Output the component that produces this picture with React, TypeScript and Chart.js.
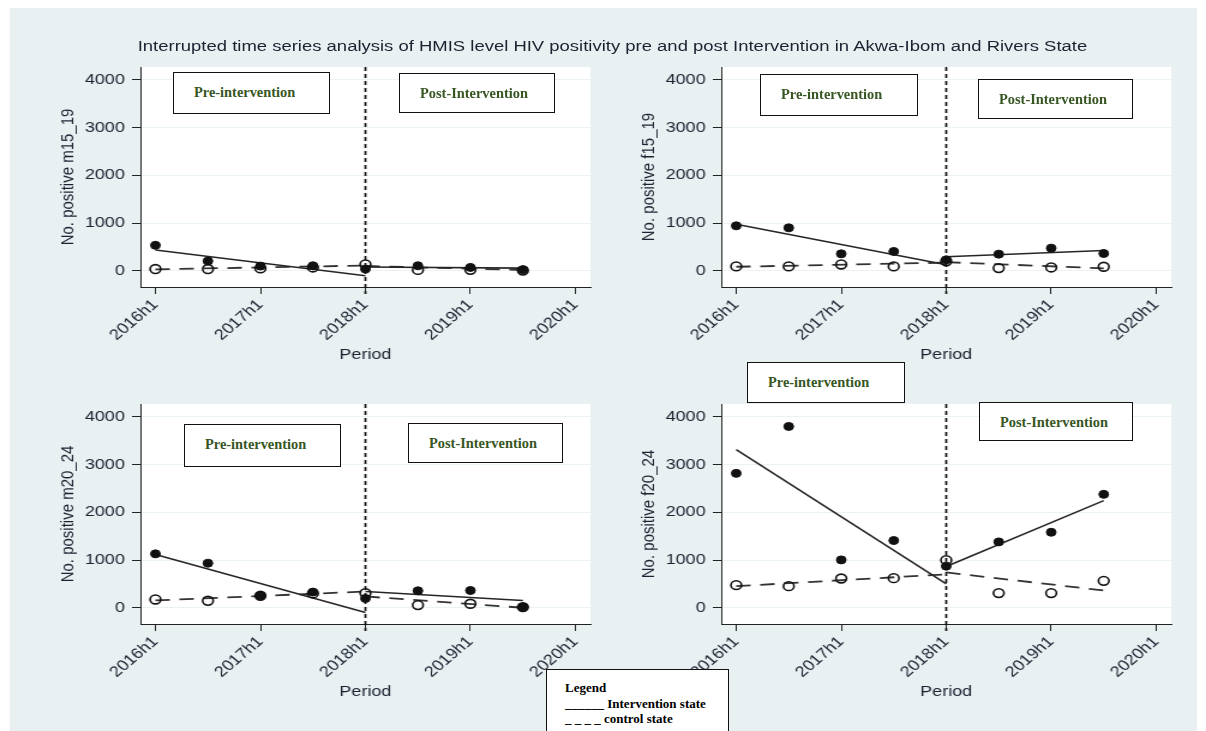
import { useEffect, useRef } from 'react';
import { Chart, registerables } from 'chart.js';

Chart.register(...registerables);

// ---- data -------------------------------------------------------------
const PERIODS = ['2016h1', '2016h2', '2017h1', '2017h2', '2018h1', '2018h2', '2019h1', '2019h2'];
const X_TICK_INDEX = [0, 2, 4, 6, 8];
const X_TICK_LABELS = ['2016h1', '2017h1', '2018h1', '2019h1', '2020h1'];
const Y_TICKS = [0, 1000, 2000, 3000, 4000];
const INTERVENTION_PERIOD = '2018h1';

// fitted segments: pre runs 2016h1 -> 2018h1, post runs 2018h1 -> 2019h2
const FIT_PRE_PERIODS = ['2016h1', '2018h1'];
const FIT_POST_PERIODS = ['2018h1', '2019h2'];

// males 15-19
const m15_19Intervention = [533, 203, 98, 105, 36, 105, 70, 20];
const m15_19Control = [36, 36, 50, 70, 134, 18, 20, 5];
const m15_19FitInterventionPre = [434, -105];
const m15_19FitInterventionPost = [80, 55];
const m15_19FitControlPre = [30, 110];
const m15_19FitControlPost = [100, 15];

// females 15-19
const f15_19Intervention = [941, 899, 355, 404, 230, 348, 474, 362];
const f15_19Control = [91, 91, 132, 91, 200, 56, 70, 84];
const f15_19FitInterventionPre = [976, 125];
const f15_19FitInterventionPost = [293, 425];
const f15_19FitControlPre = [84, 170];
const f15_19FitControlPost = [180, 50];

// males 20-24
const m20_24Intervention = [1129, 934, 251, 328, 195, 355, 362, 14];
const m20_24Control = [174, 146, 251, 300, 307, 56, 84, 14];
const m20_24FitInterventionPre = [1115, -98];
const m20_24FitInterventionPost = [341, 153];
const m20_24FitControlPre = [153, 340];
const m20_24FitControlPost = [237, 0];

// females 20-24
const f20_24Intervention = [2815, 3798, 1003, 1408, 871, 1380, 1582, 2376];
const f20_24Control = [474, 453, 613, 620, 997, 307, 307, 564];
const f20_24FitInterventionPre = [3310, 502];
const f20_24FitInterventionPost = [864, 2244];
const f20_24FitControlPre = [453, 700];
const f20_24FitControlPost = [740, 362];

const TITLE =
  'Interrupted time series analysis of HMIS level HIV positivity pre and post Intervention in Akwa-Ibom and Rivers State';

// ---- styling / layout ---------------------------------------------------
const STRETCH = 1.2; // graph is widened horizontally
const BG = 'rgb(232,240,242)';
const GRID = 'rgb(234,242,243)';
const INK = '#1b2230';
const FONT = '"Liberation Sans", Arial, sans-serif';
const Y_MIN = -340;
const Y_MAX = 4268;
const X_MIN = -0.286;
const X_MAX = 8.286;
const Y_AXIS_W = 100;
const X_AXIS_H = 80;
const CANVAS_W = 485;
const CANVAS_H = 320;

const idx = (p: string) => PERIODS.indexOf(p);

type PanelSpec = {
  left: number;
  top: number;
  yTitle: string;
  intervention: number[];
  control: number[];
  fitIntPre: number[];
  fitIntPost: number[];
  fitCtlPre: number[];
  fitCtlPost: number[];
};

const PANELS: PanelSpec[] = [
  {
    left: 140 / STRETCH - Y_AXIS_W, top: 47, yTitle: 'No. positive m15_19',
    intervention: m15_19Intervention, control: m15_19Control,
    fitIntPre: m15_19FitInterventionPre, fitIntPost: m15_19FitInterventionPost,
    fitCtlPre: m15_19FitControlPre, fitCtlPost: m15_19FitControlPost,
  },
  {
    left: 721 / STRETCH - Y_AXIS_W, top: 47, yTitle: 'No. positive f15_19',
    intervention: f15_19Intervention, control: f15_19Control,
    fitIntPre: f15_19FitInterventionPre, fitIntPost: f15_19FitInterventionPost,
    fitCtlPre: f15_19FitControlPre, fitCtlPost: f15_19FitControlPost,
  },
  {
    left: 140 / STRETCH - Y_AXIS_W, top: 383.5, yTitle: 'No. positive m20_24',
    intervention: m20_24Intervention, control: m20_24Control,
    fitIntPre: m20_24FitInterventionPre, fitIntPost: m20_24FitInterventionPost,
    fitCtlPre: m20_24FitControlPre, fitCtlPost: m20_24FitControlPost,
  },
  {
    left: 721 / STRETCH - Y_AXIS_W, top: 383.5, yTitle: 'No. positive f20_24',
    intervention: f20_24Intervention, control: f20_24Control,
    fitIntPre: f20_24FitInterventionPre, fitIntPost: f20_24FitInterventionPost,
    fitCtlPre: f20_24FitControlPre, fitCtlPost: f20_24FitControlPost,
  },
];

// text boxes placed over the graph
const NOTE_BOXES = [
  { text: 'Pre-intervention', left: 173, top: 72, width: 157, height: 42 },
  { text: 'Post-Intervention', left: 399, top: 73, width: 156, height: 40 },
  { text: 'Pre-intervention', left: 760, top: 74, width: 158, height: 42 },
  { text: 'Post-Intervention', left: 978, top: 79, width: 155, height: 40 },
  { text: 'Pre-intervention', left: 184, top: 424, width: 157, height: 43 },
  { text: 'Post-Intervention', left: 408, top: 423, width: 155, height: 40 },
  { text: 'Pre-intervention', left: 747, top: 362, width: 158, height: 41 },
  { text: 'Post-Intervention', left: 979, top: 402, width: 154, height: 39 },
];

const LEGEND_LINES = ['Legend', '______ Intervention state', '_ _ _ _ control state'];

// ---- chart ---------------------------------------------------------------
const interventionLine = {
  id: 'interventionLine',
  beforeDatasetsDraw(chart: any) {
    const { ctx, chartArea, scales } = chart;
    const px = scales.x.getPixelForValue(idx(INTERVENTION_PERIOD));
    ctx.save();
    ctx.strokeStyle = '#111';
    ctx.lineWidth = 1.7;
    ctx.setLineDash([4, 3]);
    ctx.beginPath();
    ctx.moveTo(px, chartArea.top);
    ctx.lineTo(px, chartArea.bottom + 7);
    ctx.stroke();
    ctx.restore();
  },
};

const plotBackground = {
  id: 'plotBackground',
  beforeDraw(chart: any) {
    const { ctx, chartArea } = chart;
    ctx.save();
    ctx.fillStyle = '#ffffff';
    ctx.fillRect(chartArea.left, chartArea.top, chartArea.right - chartArea.left, chartArea.bottom - chartArea.top);
    ctx.restore();
  },
};

function segment(periods: string[], values: number[]) {
  return values.map((v, i) => ({ x: idx(periods[i]), y: v }));
}

function Panel({ spec }: { spec: PanelSpec }) {
  const ref = useRef<HTMLCanvasElement>(null);

  useEffect(() => {
    if (!ref.current) return;
    const tickFont = { family: FONT, size: 15 };
    const fitLine = { pointRadius: 0, showLine: true, fill: false, borderColor: '#262626', borderWidth: 1.6 };
    const dashLine = { ...fitLine, borderColor: '#333', borderWidth: 1.8, borderDash: [12, 8] };
    const chart = new Chart(ref.current, {
      type: 'line',
      data: {
        datasets: [
          {
            label: 'Intervention state',
            data: spec.intervention.map((y, i) => ({ x: i, y })),
            showLine: false,
            pointRadius: 4,
            pointBackgroundColor: '#111',
            pointBorderColor: '#111',
            pointBorderWidth: 1,
          },
          {
            label: 'Control state',
            data: spec.control.map((y, i) => ({ x: i, y })),
            showLine: false,
            pointRadius: 4.4,
            pointBackgroundColor: 'rgba(0,0,0,0)',
            pointBorderColor: '#111',
            pointBorderWidth: 1.6,
          },
          { label: 'Intervention fit (pre)', data: segment(FIT_PRE_PERIODS, spec.fitIntPre), ...fitLine },
          { label: 'Intervention fit (post)', data: segment(FIT_POST_PERIODS, spec.fitIntPost), ...fitLine },
          { label: 'Control fit (pre)', data: segment(FIT_PRE_PERIODS, spec.fitCtlPre), ...dashLine },
          { label: 'Control fit (post)', data: segment(FIT_POST_PERIODS, spec.fitCtlPost), ...dashLine },
        ],
      },
      options: {
        responsive: false,
        animation: false,
        events: [],
        layout: { padding: { top: 20, right: 10, bottom: 0, left: 0 } },
        plugins: { legend: { display: false }, tooltip: { enabled: false }, title: { display: false } },
        scales: {
          x: {
            type: 'linear',
            min: X_MIN,
            max: X_MAX,
            afterBuildTicks: (s: any) => {
              s.ticks = X_TICK_INDEX.map((v) => ({ value: v }));
            },
            afterFit: (s: any) => {
              s.height = X_AXIS_H;
            },
            ticks: {
              autoSkip: false,
              minRotation: 45,
              maxRotation: 45,
              padding: 2,
              color: INK,
              font: tickFont,
              callback: (_v: any, i: number) => X_TICK_LABELS[i],
            },
            grid: { drawOnChartArea: false, drawTicks: true, tickLength: 7, tickColor: '#222', tickWidth: 1 },
            border: { display: true, color: '#222', width: 1 },
            title: { display: true, text: 'Period', color: INK, font: { family: FONT, size: 15 }, padding: { top: 0, bottom: 3 } },
          },
          y: {
            type: 'linear',
            min: Y_MIN,
            max: Y_MAX,
            afterBuildTicks: (s: any) => {
              s.ticks = Y_TICKS.map((v) => ({ value: v }));
            },
            afterFit: (s: any) => {
              s.width = Y_AXIS_W;
            },
            ticks: { padding: 6, color: INK, font: tickFont, callback: (v: any) => String(v) },
            grid: { color: GRID, lineWidth: 1, tickColor: '#222', tickLength: 7, tickWidth: 1 },
            border: { display: true, color: '#222', width: 1 },
            title: { display: true, text: spec.yTitle, color: INK, font: { family: FONT, size: 15 }, padding: { top: 31, bottom: 0 } },
          },
        },
      },
      plugins: [interventionLine, plotBackground],
    } as any);
    return () => chart.destroy();
  }, [spec]);

  return (
    <canvas
      ref={ref}
      width={CANVAS_W}
      height={CANVAS_H}
      style={{ position: 'absolute', left: spec.left, top: spec.top, display: 'block' }}
    />
  );
}

export default function App() {
  return (
    <div style={{ position: 'absolute', left: 0, top: 0, width: 1206, height: 731, overflow: 'hidden', background: '#fff' }}>
      <div style={{ position: 'absolute', left: 10, top: 8, width: 1187, height: 723, background: BG }} />
      <div
        style={{
          position: 'absolute', left: 0, top: 0, width: 1206 / STRETCH, height: 731,
          transform: `scaleX(${STRETCH})`, transformOrigin: '0 0',
        }}
      >
        <div
          style={{
            position: 'absolute', left: 612.5 / STRETCH - 500, width: 1000, top: 37, lineHeight: '18px',
            textAlign: 'center', fontFamily: FONT, fontSize: 15.4, color: INK, whiteSpace: 'nowrap',
          }}
        >
          {TITLE}
        </div>
        {PANELS.map((p) => (
          <Panel key={p.yTitle} spec={p} />
        ))}
      </div>
      {NOTE_BOXES.map((b, i) => (
        <div
          key={i}
          style={{
            position: 'absolute', left: b.left, top: b.top, width: b.width, height: b.height, boxSizing: 'border-box',
            background: '#fff', border: '1.5px solid #111', paddingLeft: 20, paddingTop: 11,
            fontFamily: '"Liberation Serif", "Times New Roman", serif', fontWeight: 700, fontSize: 14.4,
            lineHeight: '16px', color: 'rgb(55,86,35)', whiteSpace: 'nowrap',
          }}
        >
          {b.text}
        </div>
      ))}
      <div
        style={{
          position: 'absolute', left: 546, top: 669, width: 183, height: 80, boxSizing: 'border-box',
          background: '#fff', border: '1.5px solid #111', paddingLeft: 18, paddingTop: 10,
          fontFamily: '"Liberation Serif", "Times New Roman", serif', fontWeight: 700, fontSize: 13,
          lineHeight: '15.5px', color: '#000', whiteSpace: 'pre',
        }}
      >
        {LEGEND_LINES.map((t) => (
          <div key={t}>{t}</div>
        ))}
      </div>
    </div>
  );
}
